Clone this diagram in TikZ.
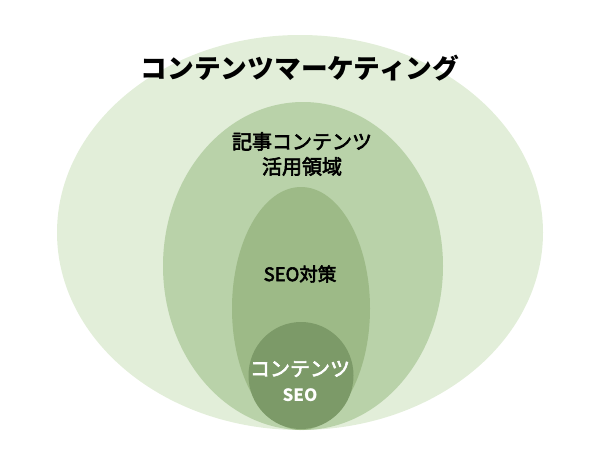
\documentclass[tikz,border=0pt]{standalone}
\usepackage{fontspec}
\newfontfamily\cjk{Noto Sans CJK JP}
\newfontfamily\cjkm[FakeBold=3]{Noto Sans CJK JP}
\definecolor{cOuter}{HTML}{E2EED9}
\definecolor{cSecond}{HTML}{B9D2A9}
\definecolor{cThird}{HTML}{9DBA87}
\definecolor{cInner}{HTML}{7C9A68}
\tikzset{
  zone/.style={draw=none},
  lbl/.style={align=center, inner sep=0pt},
}
\begin{document}
\begin{tikzpicture}[x=1pt,y=-1pt]
\useasboundingbox (0,0) rectangle (600,450);
\fill[zone, cOuter] (300,232.5) ellipse [x radius=243, y radius=197.5];
\fill[zone, cSecond] (303,266) ellipse [x radius=140, y radius=164];
\fill[zone, cThird] (301,308.5) ellipse [x radius=69, y radius=121.5];
\fill[zone, cInner] (301,375.5) ellipse [x radius=52.5, y radius=53.5];
\node[lbl, font=\cjk\bfseries\fontsize{26.7}{30}\selectfont] (t1) at (300,68) {コンテンツマーケティング};
\node[lbl, font=\cjkm\fontsize{20}{25}\selectfont] (t2) at (302,154) {記事コンテンツ\\活用領域};
\node[lbl, font=\cjkm\fontsize{18.5}{22}\selectfont] (t3) at (300,274) {SEO対策};
\node[lbl, text=white, font=\cjkm\fontsize{20}{22}\selectfont] (t4) at (300,369) {コンテンツ};
\node[lbl, text=white, font=\cjk\bfseries\fontsize{17}{20}\selectfont] (t5) at (300,395) {SEO};
\end{tikzpicture}
\end{document}
